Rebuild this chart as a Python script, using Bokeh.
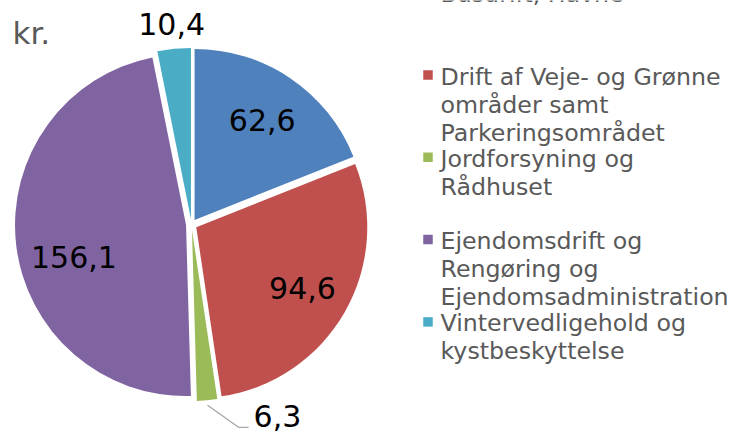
import numpy as np
from bokeh.plotting import figure
from bokeh.models import Range1d
from bokeh.core.properties import value
from bokeh.embed import file_html
from bokeh.resources import INLINE

# ---------------- data ----------------
categories = [
    ["Busdrift, Havne"],
    ["Drift af Veje- og Grønne", "områder samt", "Parkeringsområdet"],
    ["Jordforsyning og", "Rådhuset"],
    ["Ejendomsdrift og", "Rengøring og", "Ejendomsadministration"],
    ["Vintervedligehold og", "kystbeskyttelse"],
]
values = [62.6, 94.6, 6.3, 156.1, 10.4]
value_labels = ["62,6", "94,6", "6,3", "156,1", "10,4"]
colors = ["#4F81BD", "#C0504D", "#9BBB59", "#8064A2", "#4BACC6"]
unit_label = "kr."

# ---------------- layout (picture pixel coordinates) ----------------
W, H = 735, 433
def Y(sy):
    return H - sy

CX, CY = 191.0, 224.0   # pie centre
R = 171.0               # radius
EXPLODE = 5.5           # explosion distance
FONT = value("DejaVu Sans")

p = figure(width=W, height=H, x_range=Range1d(0, W), y_range=Range1d(0, H),
           output_backend="svg", toolbar_location=None, min_border=0,
           x_axis_location=None, y_axis_location=None)
p.grid.visible = False
p.outline_line_color = None
p.background_fill_color = "white"
p.border_fill_color = "white"

vals = np.array(values)
frac = vals / vals.sum()
cum_end = np.cumsum(frac) * 2 * np.pi
cum_start = cum_end - frac * 2 * np.pi
mid = (cum_start + cum_end) / 2

xs = CX + EXPLODE * np.sin(mid)
ys = Y(CY) + EXPLODE * np.cos(mid)
p.wedge(x=list(xs), y=list(ys), radius=R,
        start_angle=list(np.pi / 2 - cum_start), end_angle=list(np.pi / 2 - cum_end),
        direction="clock", fill_color=colors, line_color=None)

# value labels
label_r = {0: 126, 1: 128, 3: 122, 4: 201}
label_ang_adj = {3: np.deg2rad(-9)}
lx, ly, lt = [], [], []
for i, rr in label_r.items():
    a = mid[i] + label_ang_adj.get(i, 0.0)
    lx.append(CX + rr * np.sin(a))
    ly.append(Y(CY) + rr * np.cos(a))
    lt.append(value_labels[i])
p.text(x=lx, y=ly, text=lt, text_font=FONT, text_font_size="30px",
       text_align="center", text_baseline="middle", text_color="black")

# small slice: label outside with leader line
a = mid[2]
sx0 = CX + (R + EXPLODE + 5) * np.sin(a)
sy0 = Y(CY) + (R + EXPLODE + 5) * np.cos(a)
p.line(x=[sx0, sx0 + 31, sx0 + 41], y=[sy0, sy0 - 22, sy0 - 22],
       line_color="#A6A6A6", line_width=1.3)
p.text(x=[sx0 + 46], y=[sy0 - 11], text=[value_labels[2]], text_font=FONT,
       text_font_size="30px", text_align="left", text_baseline="middle",
       text_color="black")

# unit text
p.text(x=[12], y=[Y(32)], text=[unit_label], text_font=FONT, text_font_size="31px",
       text_align="left", text_baseline="alphabetic", text_color="#595959")

# legend
LEG_X = 440
MARK_X = 427.5
FIRST_BASE = 76.0
ENTRY_STEP = 82.3
LINE_STEP = 28.0
tx, ty, tt = [], [], []
mx, my = [], []
for i, lines in enumerate(categories):
    base = FIRST_BASE + (i - 1) * ENTRY_STEP
    mx.append(MARK_X)
    my.append(Y(base - 1.5))
    for j, line in enumerate(lines):
        tx.append(LEG_X)
        ty.append(Y(base + j * LINE_STEP))
        tt.append(line)
p.scatter(x=mx, y=my, marker="square", size=9.5, fill_color=colors, line_color=None)
p.text(x=tx, y=ty, text=tt, text_font=FONT, text_font_size="23.7px",
       text_align="left", text_baseline="alphabetic", text_color="#595959")

open("out.html", "w").write(file_html(p, INLINE))
